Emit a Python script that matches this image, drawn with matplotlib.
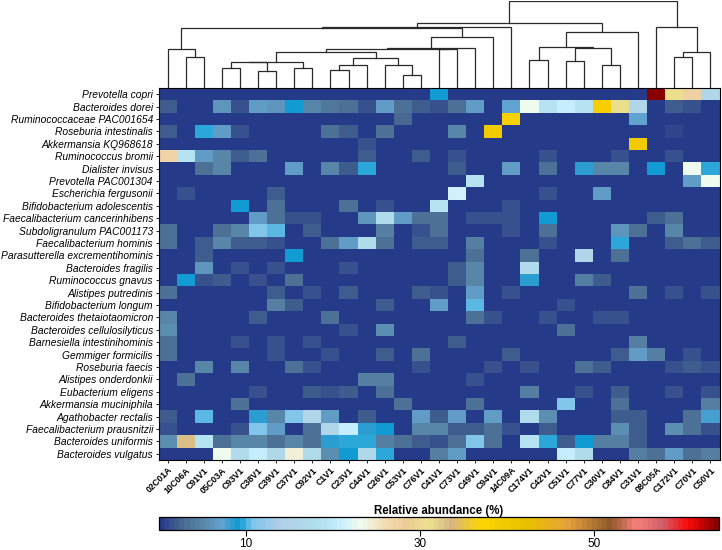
import numpy as np
import matplotlib
matplotlib.use("Agg")
import matplotlib.pyplot as plt
from matplotlib.colors import LinearSegmentedColormap, Normalize

plt.rcParams['font.family'] = ['Liberation Sans', 'DejaVu Sans']

samples = ["02C01A", "10C06A", "C91V1", "05C03A", "C93V1", "C38V1", "C39V1", "C37V1",
           "C92V1", "C1V1", "C23V1", "C44V1", "C26V1", "C53V1", "C76V1", "C41V1",
           "C73V1", "C49V1", "C94V1", "14C09A", "C174V1", "C42V1", "C51V1", "C77V1",
           "C30V1", "C84V1", "C31V1", "08C05A", "C172V1", "C70V1", "C50V1"]

species = ["Prevotella copri", "Bacteroides dorei", "Ruminococcaceae PAC001654",
           "Roseburia intestinalis", "Akkermansia KQ968618", "Ruminococcus bromii",
           "Dialister invisus", "Prevotella PAC001304", "Escherichia fergusonii",
           "Bifidobacterium adolescentis", "Faecalibacterium cancerinhibens",
           "Subdoligranulum PAC001173", "Faecalibacterium hominis",
           "Parasutterella excrementihominis", "Bacteroides fragilis",
           "Ruminococcus gnavus", "Alistipes putredinis", "Bifidobacterium longum",
           "Bacteroides thetaiotaomicron", "Bacteroides cellulosilyticus",
           "Barnesiella intestinihominis", "Gemmiger formicilis", "Roseburia faecis",
           "Alistipes onderdonkii", "Eubacterium eligens", "Akkermansia muciniphila",
           "Agathobacter rectalis", "Faecalibacterium prausnitzii",
           "Bacteroides uniformis", "Bacteroides vulgatus"]

abundance = [
    [0,0,0,0,0,0,0,0,0,0,0,0,0,0,0,9,0,0,0,0,0,0,0,0,0,0,0,64,31,28,16],
    [2,0,0,6,1.5,6.5,6,9,5,4,3.5,1.5,7,3,2,1.5,3,6.5,0,7.5,23,19,21,19,39,31,16,0,2,1.5,0],
    [0,0,0,0,0,0,0,0,0,0,0,0,0,2.5,0,0,0,0,0,38,0,0,0,0,0,0,7.5,0,0,0,0],
    [2,0,9.5,7,1.5,0,0,0,0,3.5,2,0,3,0,0,0,5,0,40,0,0,0,0,0,0,0,0,0,1,0,0],
    [0,0,0,0,0,0,0,0,0,0,0,1.5,0,0,0,0,0,0,0,0,0,0,0,0,0,0,40,0,0,0,0],
    [27,19,6.5,5,2,3.5,0,0,0,0,0,2,0,0,2,0,1.5,0,0,0,0,1.5,0,0,0,1.5,0,0,1.5,0,0],
    [0,0,3.5,5,0,0,0,6.5,0,5,2,9.5,0,0,0,0,2,0,0,7,0,3,0,8.5,5,5,0,9,0,23,9.5],
    [0,0,0,0,0,0,0,0,0,0,0,0,0,0,0,0,0,19,0,0,0,0,0,0,0,0,0,0,0,6.5,23],
    [0,1.5,0,0,0,0,2,0,0,0,0,0,0,0,0,0,21.5,0,0,0,0,1.5,0,0,7,0,0,0,0,0,0],
    [0,0,0,0,9,0,3.5,0,0,0,3,0,1.5,0,0,19,0,0,0,1.5,0,0,0,0,0,0,0,0,0,0,0],
    [0,0,0,0,0,7,3,1.5,1.5,0,0,6,17,6.5,3,3.5,0,1.5,1.5,1.5,0,9,0,0,0,0,0,2,3,0,0],
    [3.5,0,0,3,5,11,10,0,2,0,0,0,4.5,0,1.5,3,0,0,0,1.5,0,3,0,0,0,6,3.5,0,5,0,0],
    [3,0,2,5,2,2,1.5,0,0,3,7,17,3,0,2,2,0,4.5,0,0,0,1.5,0,0,0,9.5,0,0,2,3.5,2],
    [0,0,2,0,0,0,0,9,0,0,0,0,0,0,0,0,0,3.5,0,0,3.5,0,0,16,0,3.5,0,0,0,0,0],
    [0,0,6,0,1.5,0,1.5,0,0,0,1.5,0,0,0,0,0,2,5,0,0,17,0,0,0,0,0,0,0,0,0,0],
    [0,9,1.5,2,0,1.5,0,3,0,0,0,0,0,0,0,0,2,5,0,0,8.5,0,0,4.5,2,0,0,0,0,0,0],
    [3.5,0,0,0,0,0,2,0,1.5,0,2,0,0,0,2,1.5,0,6.5,0,1.5,0,0,0,0,0,0,3,0,1.5,0,1.5],
    [0,0,0,0,0,0,4.5,2,0,0,0,0,2,0,0,6.5,0,10,0,0,0,0,1.5,0,0,0,0,0,0,0,0],
    [5,0,0,0,0,2,0,0,0,3.5,0,0,0,0,0,0,0,3.5,1.5,0,0,1.5,0,0,1.5,1.5,0,0,0,0,0],
    [5.5,0,0,0,0,0,0,0,0,0,1.5,0,5.5,0,0,0,0,0,0,0,0,0,3.5,0,0,0,0,0,0,0,0],
    [3,0,0,0,1.5,0,1.5,0,1.5,0,0,0,0,0,0,0,2,0,0,0,0,0,0,0,0,0,4.5,0,0,0,0],
    [3,0,0,0,0,0,1.5,0,0,1.5,0,0,2,0,3.5,0,0,0,0,2,0,0,0,0,0,2,6.5,4.5,0,1.5,0],
    [0,0,5,0,5,0,0,3,1.5,0,0,0,0,0,1.5,0,0,0,1.5,0,1.5,0,0,3.5,2,0,0,0,1.5,2,1.5],
    [0,3,0,0,0,0,0,0,0,0,0,4.5,4.5,0,0,0,0,1.5,0,0,0,0,0,0,0,0,0,0,0,0,0],
    [0,0,0,0,0,1.5,0,0,2,1.5,2,0,3.5,0,0,0,0,0,0,0,4.5,0,0,1.5,0,2,0,0,1.5,0,1.5],
    [0,0,0,0,3,0,0,0,0,0,0,0,0,3,0,0,0,3,0,0,0,0,11,0,0,3.5,0,0,0,0,4.5],
    [2,0,10,0,0,8.5,5,11,16,7,0,2,0,0,6.5,2,6.5,0,7,0,17,5.5,0,0,0,2,2,0,0,3.5,8],
    [1.5,0,0,0,1.5,11,6.5,0,3,16,20.5,8.5,9,0,5,5,2,2,3.5,1.5,0,2,0,0,0,5.5,2,0,5.5,3.5,1.5],
    [5.5,33,19,3.5,5,5,3,5,3.5,8.5,9.5,9.5,4.5,3,2,1.5,3,11,3,0,19,9.5,2,9,4.5,4.5,2,0,0,0,0],
    [0,0,0,23,17,20.5,16.5,24.5,17,5.5,9,16.5,9.5,0,0,4.5,7,0,0,0,0,0,20.5,17,0,0,4.5,3,7,3,4.5],
]

# Dendrogram merges: (child_a, child_b, height); ids < 31 are leaves, 31+k is merge k
merges = [
    (1, 2, 95), (0, 31, 117), (3, 4, 60), (5, 6, 50), (7, 8, 60),
    (33, 34, 77), (36, 35, 79), (9, 10, 55), (38, 11, 70), (13, 14, 38),
    (12, 40, 70), (39, 41, 92), (37, 42, 110), (15, 16, 117), (43, 44, 118),
    (45, 17, 122), (46, 18, 155), (32, 47, 180), (48, 19, 183),
    (20, 21, 83), (22, 23, 80), (24, 25, 70), (51, 52, 122), (50, 53, 123),
    (54, 26, 168), (49, 55, 197),
    (28, 29, 93), (57, 30, 108), (27, 58, 185), (56, 59, 262),
]

cbar_ticks = [10, 30, 50]
vmin, vmax = 0, 64.3

cmap_colors = [
    (0.0, '#253a89'), (2.5, '#4a6a92'), (5.0, '#5a8aac'), (7.0, '#64a2d0'),
    (9.0, '#0a9ad2'), (10.5, '#7fc6ea'), (14.0, '#b2cfe8'), (18.0, '#b0deea'),
    (20.5, '#c2ecff'), (23.0, '#f0fbef'), (26.0, '#f3dcb2'), (28.5, '#edcb98'),
    (31.0, '#ede48e'), (33.5, '#d6b586'), (37.0, '#fdd600'), (42.5, '#e8c000'),
    (47.0, '#e8a23c'), (52.0, '#8d5a2c'), (55.0, '#f7807a'), (58.0, '#d0606a'),
    (61.0, '#fa0a0a'), (64.3, '#880000'),
]
cmap = LinearSegmentedColormap.from_list(
    'abund', [((v - vmin) / (vmax - vmin), c) for v, c in cmap_colors]).resampled(110)
norm = Normalize(vmin, vmax)

W, H = 722, 550
fig = plt.figure(figsize=(W / 100, H / 100), dpi=100)

def ax_rect(x0, y0, x1, y1):
    return [x0 / W, 1 - y1 / H, (x1 - x0) / W, (y1 - y0) / H]

data = np.array(abundance)
nr, nc = data.shape

ax = fig.add_axes(ax_rect(158.5, 88, 719.5, 460))
ax.pcolormesh(np.arange(nc + 1), np.arange(nr + 1), data, cmap=cmap, norm=norm)
ax.set_xlim(0, nc)
ax.set_ylim(nr, 0)
ax.set_xticks(np.arange(nc) + 0.5)
ax.set_xticklabels(samples, rotation=45, ha='right', rotation_mode='anchor',
                   fontsize=6.4, fontweight='bold')
ax.set_yticks(np.arange(nr) + 0.5)
ax.set_yticklabels(species, fontsize=7.4, fontstyle='italic')
ax.tick_params(axis='both', length=2.5, width=0.6, pad=1.5)
for s in ax.spines.values():
    s.set_linewidth(0.8)

# Dendrogram
dax = fig.add_axes(ax_rect(158.5, 1, 719.5, 88))
pos = {i: i + 0.5 for i in range(nc)}
hgt = {i: 0.0 for i in range(nc)}
for k, (a, b, h) in enumerate(merges):
    xa, xb = pos[a], pos[b]
    dax.plot([xa, xa, xb, xb], [hgt[a], h, h, hgt[b]], color='#2a2a2a', lw=0.9,
             solid_joinstyle='miter')
    pos[nc + k] = (xa + xb) / 2
    hgt[nc + k] = h
dax.set_xlim(0, nc)
dax.set_ylim(0, max(m[2] for m in merges) + 0.5)
dax.axis('off')

# Colorbar
cax = fig.add_axes(ax_rect(159, 517, 719, 530))
cb = fig.colorbar(plt.cm.ScalarMappable(norm=norm, cmap=cmap), cax=cax,
                  orientation='horizontal', ticks=cbar_ticks)
cb.outline.set_linewidth(0.9)
cax.tick_params(labelsize=8.5, length=4, width=0.8, pad=2)
cax.set_title('Relative abundance (%)', fontsize=8.3, fontweight='bold', pad=2)

fig.savefig('out.png', dpi=100)
